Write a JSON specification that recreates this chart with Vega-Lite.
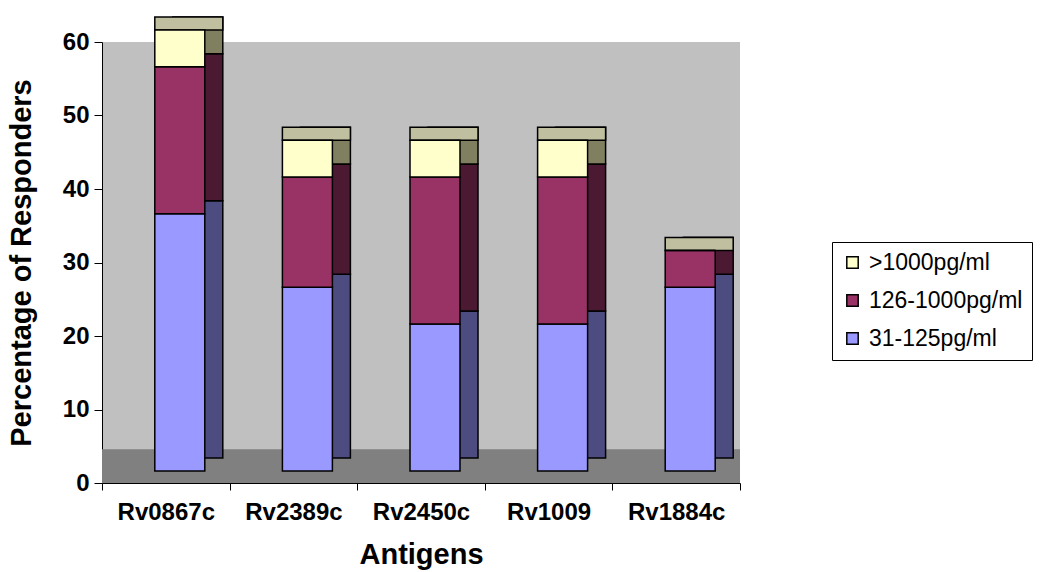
{
  "$schema": "https://vega.github.io/schema/vega-lite/v6.json",
  "autosize": {"type": "none"},
  "padding": {"left": 102, "top": 42, "right": 301, "bottom": 89},
  "width": 638,
  "height": 441,
  "background": "white",
  "config": {
    "font": "Liberation Sans",
    "view": {"stroke": null, "fill": "#C0C0C0"}
  },
  "data": {
    "values": [
      {"Antigen": "Rv0867c", "Level": "31-125pg/ml", "rank": 1, "Percent": 35},
      {"Antigen": "Rv0867c", "Level": "126-1000pg/ml", "rank": 2, "Percent": 20},
      {"Antigen": "Rv0867c", "Level": ">1000pg/ml", "rank": 3, "Percent": 5},
      {"Antigen": "Rv2389c", "Level": "31-125pg/ml", "rank": 1, "Percent": 25},
      {"Antigen": "Rv2389c", "Level": "126-1000pg/ml", "rank": 2, "Percent": 15},
      {"Antigen": "Rv2389c", "Level": ">1000pg/ml", "rank": 3, "Percent": 5},
      {"Antigen": "Rv2450c", "Level": "31-125pg/ml", "rank": 1, "Percent": 20},
      {"Antigen": "Rv2450c", "Level": "126-1000pg/ml", "rank": 2, "Percent": 20},
      {"Antigen": "Rv2450c", "Level": ">1000pg/ml", "rank": 3, "Percent": 5},
      {"Antigen": "Rv1009", "Level": "31-125pg/ml", "rank": 1, "Percent": 20},
      {"Antigen": "Rv1009", "Level": "126-1000pg/ml", "rank": 2, "Percent": 20},
      {"Antigen": "Rv1009", "Level": ">1000pg/ml", "rank": 3, "Percent": 5},
      {"Antigen": "Rv1884c", "Level": "31-125pg/ml", "rank": 1, "Percent": 25},
      {"Antigen": "Rv1884c", "Level": "126-1000pg/ml", "rank": 2, "Percent": 5},
      {"Antigen": "Rv1884c", "Level": ">1000pg/ml", "rank": 3, "Percent": 0}
    ]
  },
  "layer": [
    {
      "data": {"values": [{"floor": "floor"}]},
      "mark": {"type": "rect", "color": "#808080"},
      "encoding": {
        "y": {"datum": 0, "type": "quantitative", "scale": {"domain": [0, 60]}},
        "y2": {"datum": 4.6}
      }
    },
    {
      "mark": {"type": "bar", "size": 50, "xOffset": 32, "yOffset": -25, "y2Offset": -25, "stroke": "black", "strokeWidth": 1.5},
      "encoding": {
        "x": {"field": "Antigen", "type": "nominal", "sort": null},
        "y": {"field": "Percent", "type": "quantitative", "stack": "zero"},
        "order": {"field": "rank", "type": "quantitative"},
        "color": {
          "field": "Level", "type": "nominal",
          "scale": {"domain": [">1000pg/ml", "126-1000pg/ml", "31-125pg/ml"], "range": ["#808060", "#4C1933", "#4C4C80"]},
          "legend": null
        }
      }
    },
    {
      "transform": [{"aggregate": [{"op": "sum", "field": "Percent", "as": "Total"}], "groupby": ["Antigen"]}],
      "mark": {"type": "bar", "size": 68, "xOffset": 23, "yOffset": -25, "y2Offset": -12, "stroke": "black", "strokeWidth": 1.5, "color": "#C0C0A0"},
      "encoding": {
        "x": {"field": "Antigen", "type": "nominal", "sort": null},
        "y": {"field": "Total", "type": "quantitative"},
        "y2": {"field": "Total"}
      }
    },
    {
      "mark": {"type": "bar", "size": 50, "xOffset": 14, "yOffset": -12, "y2Offset": -12, "stroke": "black", "strokeWidth": 1.5},
      "encoding": {
        "x": {
          "field": "Antigen", "type": "nominal", "sort": null,
          "scale": {"paddingInner": 0, "paddingOuter": 0},
          "axis": {
            "title": "Antigens", "labelAngle": 0, "labelAlign": "center", "labelFontSize": 24, "labelFontWeight": "bold", "labelColor": "black",
            "labelPadding": 22, "tickBand": "extent", "tickSize": 7, "tickColor": "black", "domainColor": "black",
            "titleFontSize": 29, "titleFontWeight": "bold", "titleColor": "black", "titlePadding": 16
          }
        },
        "y": {
          "field": "Percent", "type": "quantitative", "stack": "zero",
          "scale": {"domain": [0, 60]},
          "axis": {
            "title": "Percentage of Responders", "values": [0, 10, 20, 30, 40, 50, 60], "grid": false,
            "labelFontSize": 24, "labelFontWeight": "bold", "labelColor": "black", "labelPadding": 5,
            "tickSize": 8, "tickColor": "black", "domainColor": "black",
            "titleFontSize": 29, "titleFontWeight": "bold", "titleColor": "black", "titlePadding": 26
          }
        },
        "order": {"field": "rank", "type": "quantitative"},
        "color": {
          "field": "Level", "type": "nominal",
          "scale": {"domain": [">1000pg/ml", "126-1000pg/ml", "31-125pg/ml"], "range": ["#FFFFCC", "#993366", "#9999FF"]},
          "legend": {
            "title": null, "orient": "none", "legendX": 730, "legendY": 200,
            "padding": 9, "strokeColor": "black", "fillColor": "white",
            "symbolType": "square", "symbolSize": 130, "symbolStrokeColor": "black", "symbolStrokeWidth": 1.5,
            "labelFontSize": 23, "labelLimit": 400, "labelColor": "black", "rowPadding": 14, "labelOffset": 5, "symbolOpacity": 1
          }
        }
      }
    }
  ],
  "resolve": {"scale": {"color": "independent"}, "legend": {"color": "independent"}}
}
